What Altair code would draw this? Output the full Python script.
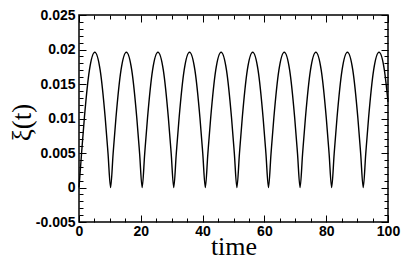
import altair as alt
import pandas as pd

# time values
t = [
    0.00, 0.82, 1.74, 3.37, 5.11, 6.85, 8.48, 9.40,
    10.22, 11.04, 11.96, 13.59, 15.33, 17.07, 18.70, 19.62,
    20.44, 21.26, 22.18, 23.81, 25.55, 27.29, 28.92, 29.84,
    30.66, 31.48, 32.40, 34.03, 35.77, 37.51, 39.14, 40.06,
    40.88, 41.70, 42.62, 44.25, 45.99, 47.73, 49.36, 50.28,
    51.10, 51.92, 52.84, 54.47, 56.21, 57.95, 59.58, 60.50,
    61.32, 62.14, 63.06, 64.69, 66.43, 68.17, 69.80, 70.72,
    71.54, 72.36, 73.28, 74.91, 76.65, 78.39, 80.02, 80.94,
    81.76, 82.58, 83.50, 85.13, 86.87, 88.61, 90.24, 91.16,
    91.98, 92.80, 93.72, 95.35, 97.09, 98.83, 100.00,
]
# xi(t) values
xi = [
    0.0, 0.0049, 0.0101, 0.0170, 0.0196, 0.0170, 0.0101, 0.0049,
    0.0, 0.0049, 0.0101, 0.0170, 0.0196, 0.0170, 0.0101, 0.0049,
    0.0, 0.0049, 0.0101, 0.0170, 0.0196, 0.0170, 0.0101, 0.0049,
    0.0, 0.0049, 0.0101, 0.0170, 0.0196, 0.0170, 0.0101, 0.0049,
    0.0, 0.0049, 0.0101, 0.0170, 0.0196, 0.0170, 0.0101, 0.0049,
    0.0, 0.0049, 0.0101, 0.0170, 0.0196, 0.0170, 0.0101, 0.0049,
    0.0, 0.0049, 0.0101, 0.0170, 0.0196, 0.0170, 0.0101, 0.0049,
    0.0, 0.0049, 0.0101, 0.0170, 0.0196, 0.0170, 0.0101, 0.0049,
    0.0, 0.0049, 0.0101, 0.0170, 0.0196, 0.0170, 0.0101, 0.0049,
    0.0, 0.0049, 0.0101, 0.0170, 0.0196, 0.0170, 0.0124,
]

x_major = [0, 20, 40, 60, 80, 100]
x_minor = [5, 10, 15, 25, 30, 35, 45, 50, 55, 65, 70, 75, 85, 90, 95]
y_major = [-0.005, 0.0, 0.005, 0.01, 0.015, 0.02, 0.025]
y_minor = [-0.004, -0.003, -0.002, -0.001, 0.001, 0.002, 0.003, 0.004,
           0.006, 0.007, 0.008, 0.009, 0.011, 0.012, 0.013, 0.014,
           0.016, 0.017, 0.018, 0.019, 0.021, 0.022, 0.023, 0.024]

df = pd.DataFrame({"t": t, "xi": xi})

xscale = alt.Scale(domain=[0, 100], nice=False, zero=False)
yscale = alt.Scale(domain=[-0.005, 0.025], nice=False, zero=False)

LABEL_FONT = "Liberation Sans"
TITLE_FONT = "Liberation Serif"


def tick_axis(orient, values, size):
    return alt.Axis(orient=orient, values=values, ticks=True, tickSize=size,
                    offset=-size, labels=False, domain=False, grid=False,
                    title=None, tickColor="black", tickWidth=1)


def layer(xaxis, yaxis, opacity):
    return alt.Chart(df).mark_line(
        color="black", strokeWidth=1.4, interpolate="monotone", opacity=opacity
    ).encode(
        x=alt.X("t:Q", scale=xscale, axis=xaxis),
        y=alt.Y("xi:Q", scale=yscale, axis=yaxis),
    )


main_x = alt.Axis(orient="bottom", values=x_major, ticks=False, tickSize=0,
                  domain=False, grid=False, labelFont=LABEL_FONT,
                  labelFontWeight="bold", labelFontSize=14, labelColor="black",
                  labelPadding=2, labelFlush=False, labelOverlap=False,
                  title="time", titleFont=TITLE_FONT, titleFontSize=26,
                  titleFontWeight="normal", titleColor="black",
                  titleBaseline="alphabetic", titleY=32)
main_y = alt.Axis(orient="left", values=y_major, ticks=False, tickSize=0,
                  domain=False, grid=False, labelFont=LABEL_FONT,
                  labelFontWeight="bold", labelFontSize=14, labelColor="black",
                  labelPadding=4, labelFlush=False, labelOverlap=False,
                  labelExpr="'' + round(datum.value * 1000) / 1000",
                  title="ξ(t)", titleFont=TITLE_FONT, titleFontSize=27,
                  titleFontWeight="normal", titleColor="black",
                  titleBaseline="middle", titleX=-57, titleY=107)

chart = alt.layer(
    layer(main_x, main_y, 1),
    layer(tick_axis("bottom", x_major, 7), tick_axis("left", y_major, 7), 0),
    layer(tick_axis("top", x_major, 7), tick_axis("right", y_major, 7), 0),
    layer(tick_axis("bottom", x_minor, 4), tick_axis("left", y_minor, 4), 0),
    layer(tick_axis("top", x_minor, 4), tick_axis("right", y_minor, 4), 0),
).resolve_axis(
    x="independent", y="independent"
).properties(
    width=309, height=207,
    autosize=alt.AutoSizeParams(type="none"),
    padding={"left": 71, "top": 7, "right": 13, "bottom": 39},
).configure_view(
    stroke="black", strokeWidth=1.5
)

chart.save("out.html", embed_options={"renderer": "svg", "actions": False})
